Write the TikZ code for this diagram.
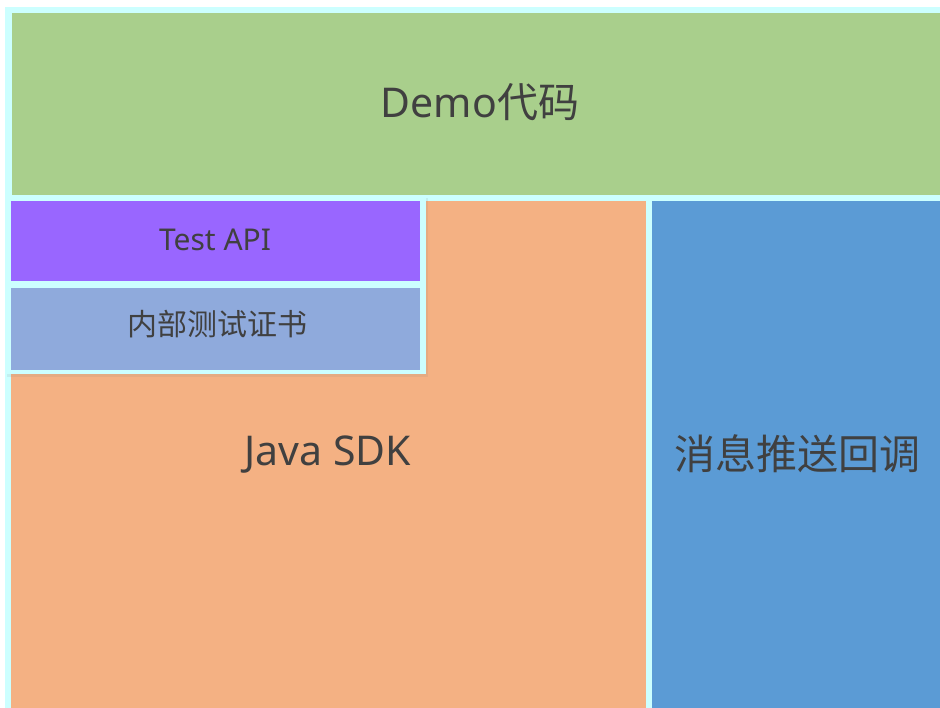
\documentclass[tikz,border=0pt]{standalone}
\usepackage{fontspec}
\setmainfont{Noto Sans}
\newfontfamily\cjk{Noto Sans CJK SC}
\usetikzlibrary{shadows}
\definecolor{bgcyan}{HTML}{CCFFFF}
\definecolor{cgreen}{HTML}{A9CF8C}
\definecolor{cpurple}{HTML}{9966FF}
\definecolor{cgrey}{HTML}{8FAADC}
\definecolor{corange}{HTML}{F4B183}
\definecolor{cblue}{HTML}{5B9BD5}
\definecolor{ctext}{HTML}{404040}
\tikzset{
  box/.style={draw=none, inner sep=0pt, outer sep=0pt, text=ctext, anchor=north west},
  bigtext/.style={font=\fontsize{41}{48}\selectfont, text=ctext},
  smalltext/.style={font=\fontsize{30}{36}\selectfont, text=ctext},
}
\begin{document}
\begin{tikzpicture}[x=1pt,y=-1pt]
\useasboundingbox (0,0) rectangle (940,708);
\fill[white] (0,0) rectangle (940,708);
\fill[bgcyan] (5,7) rectangle (940,708);
% top green
\node[box, fill=cgreen, minimum width=928pt, minimum height=182pt] (demo) at (12,13) {};
\node[bigtext] (demotxt) at (480,102) {Demo{\cjk 代码}};
% orange
\node[box, fill=corange, minimum width=635pt, minimum height=507pt] (java) at (11,201) {};
\node[bigtext] (javatxt) at (328,455) {Java SDK};
% blue
\node[box, fill=cblue, minimum width=288pt, minimum height=507pt] (push) at (652,201) {};
\node[bigtext] (pushtxt) at (797,454) {\cjk 消息推送回调};
% cyan frame around sub boxes with shadow
\node[box, fill=bgcyan, minimum width=421pt, minimum height=179pt,
      drop shadow={shadow xshift=2pt, shadow yshift=-3pt, opacity=0.12}] (frame) at (5,195) {};
% purple
\node[box, fill=cpurple, minimum width=409pt, minimum height=80pt] (test) at (11,201) {};
\node[smalltext] (testtxt) at (215,240) {Test API};
% grey-blue
\node[box, fill=cgrey, minimum width=409pt, minimum height=82pt] (cert) at (11,288) {};
\node[smalltext] (certtxt) at (217,324) {\cjk 内部测试证书};
\end{tikzpicture}
\end{document}
